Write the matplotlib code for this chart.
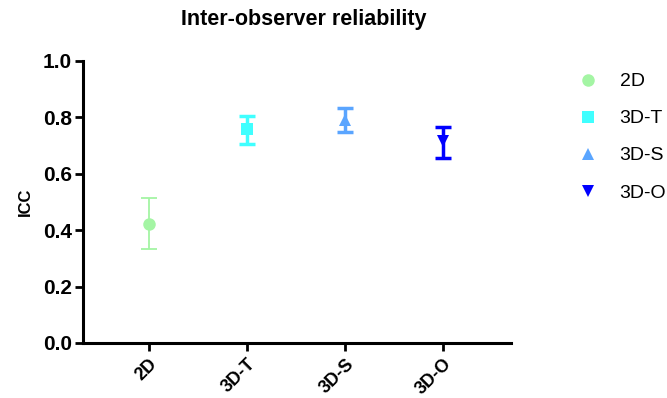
import matplotlib
matplotlib.use('Agg')
import matplotlib.pyplot as plt
import matplotlib.transforms as mtransforms
import numpy as np

# Data
groups = ['2D', '3D-T', '3D-S', '3D-O']
icc = [0.422, 0.759, 0.792, 0.716]
upper = [0.515, 0.806, 0.834, 0.766]
lower = [0.334, 0.706, 0.749, 0.655]

colors = ['#a4f5a4', '#40ffff', '#5aa5ff', '#0000ff']
markers = ['o', 's', '^', 'v']
bar_widths = [1.3, 2.5, 2.5, 2.5]

plt.rcParams['font.family'] = ['Liberation Sans', 'DejaVu Sans']

fig = plt.figure(figsize=(6.67, 3.98), dpi=100)
ax = fig.add_axes([83 / 667, 55 / 398, (511 - 83) / 667, 282 / 398])

x = np.arange(len(groups))
handles = []
for i in range(len(groups)):
    err = [[icc[i] - lower[i]], [upper[i] - icc[i]]]
    ax.errorbar(x[i], icc[i], yerr=err, fmt='none', ecolor=colors[i],
                elinewidth=bar_widths[i], capsize=5.5, capthick=bar_widths[i])
    h, = ax.plot(x[i], icc[i], linestyle='none', marker=markers[i], color=colors[i],
                 markersize=9, markeredgewidth=0, label=groups[i])
    handles.append(h)

ax.set_xlim(-0.67, 3.69)
ax.set_ylim(0, 1.0)
ax.set_yticks([0.0, 0.2, 0.4, 0.6, 0.8, 1.0])
ax.set_yticklabels(['0.0', '0.2', '0.4', '0.6', '0.8', '1.0'], fontsize=15, fontweight='bold')
ax.set_xticks(x)
ax.set_xticklabels(groups, rotation=45, ha='right', rotation_mode='anchor',
                   fontsize=13, fontweight='bold')
# nudge rotated labels a little to the right, like the reference
shift = mtransforms.ScaledTranslation(6 / 100, 0, fig.dpi_scale_trans)
for lab in ax.get_xticklabels():
    lab.set_transform(lab.get_transform() + shift)
ax.set_ylabel('ICC', fontsize=12, fontweight='bold', labelpad=7)
ax.set_title('Inter-observer reliability', fontsize=15.5, fontweight='bold', pad=26,
             x=(304 - 83) / 428)

for side in ['top', 'right']:
    ax.spines[side].set_visible(False)
for side in ['left', 'bottom']:
    ax.spines[side].set_linewidth(2.2)
ax.tick_params(axis='both', width=2, length=6, direction='out')
ax.tick_params(axis='y', pad=2)
ax.tick_params(axis='x', pad=3)

fig.legend(handles=handles, loc='upper left', bbox_to_anchor=(569 / 667, 1 - 65 / 398),
           frameon=False, fontsize=14, handletextpad=1.0, labelspacing=1.0,
           borderaxespad=0, handlelength=1.2)

fig.savefig('out.png', dpi=100)
